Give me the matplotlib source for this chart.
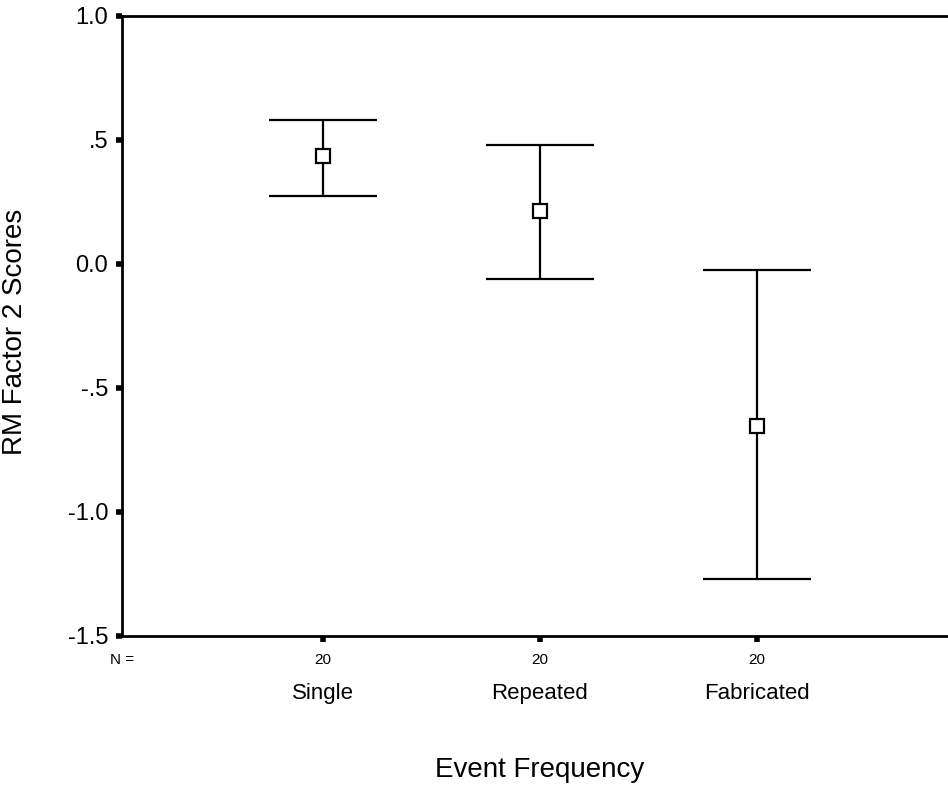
import matplotlib
matplotlib.use('Agg')
import matplotlib.pyplot as plt
import numpy as np

plt.rcParams['font.family'] = ['Liberation Sans', 'DejaVu Sans']

groups = ['Single', 'Repeated', 'Fabricated']
n_counts = [20, 20, 20]
means = [0.435, 0.214, -0.653]
upper = [0.581, 0.480, -0.024]
lower = [0.274, -0.060, -1.270]

yticks = [1.0, 0.5, 0.0, -0.5, -1.0, -1.5]
ytick_labels = ['1.0', '.5', '0.0', '-.5', '-1.0', '-1.5']

x = np.arange(1, len(groups) + 1)
means_a = np.array(means)
yerr = [means_a - np.array(lower), np.array(upper) - means_a]

fig = plt.figure(figsize=(9.48, 7.88), dpi=100)
ax = fig.add_axes([0.1287, 0.1929, 0.8713, 0.7868])

ax.errorbar(x, means, yerr=yerr, fmt='s', color='black', ecolor='black',
            elinewidth=1.6, capsize=39, capthick=1.6,
            markersize=10, markerfacecolor='white', markeredgecolor='black',
            markeredgewidth=1.6, zorder=3)

ax.set_xlim(0.074, 3.88)
ax.set_ylim(-1.5, 1.0)

ax.set_yticks(yticks)
ax.set_yticklabels(ytick_labels, fontsize=17)
ax.set_xticks(x)
ax.set_xticklabels([str(n) for n in n_counts], fontsize=11)

ax.tick_params(axis='both', direction='out', length=4, width=4, color='black')
ax.tick_params(axis='y', pad=6)
ax.tick_params(axis='x', pad=8)

for s in ['left', 'top', 'bottom']:
    ax.spines[s].set_linewidth(2)
ax.spines['right'].set_visible(False)

trans = ax.get_xaxis_transform()
ax.text(ax.get_xlim()[0], -0.0395, 'N =', transform=trans, ha='center',
        va='center', fontsize=11)
for xi, g in zip(x, groups):
    ax.text(xi, -0.092, g, transform=trans, ha='center', va='center', fontsize=16)
ax.text(2, -0.216, 'Event Frequency', transform=trans, ha='center',
        va='center', fontsize=20)

ax.set_ylabel('RM Factor 2 Scores', fontsize=20)
ax.yaxis.set_label_coords(-0.114, 0.49)

fig.savefig('out.png', dpi=100)
